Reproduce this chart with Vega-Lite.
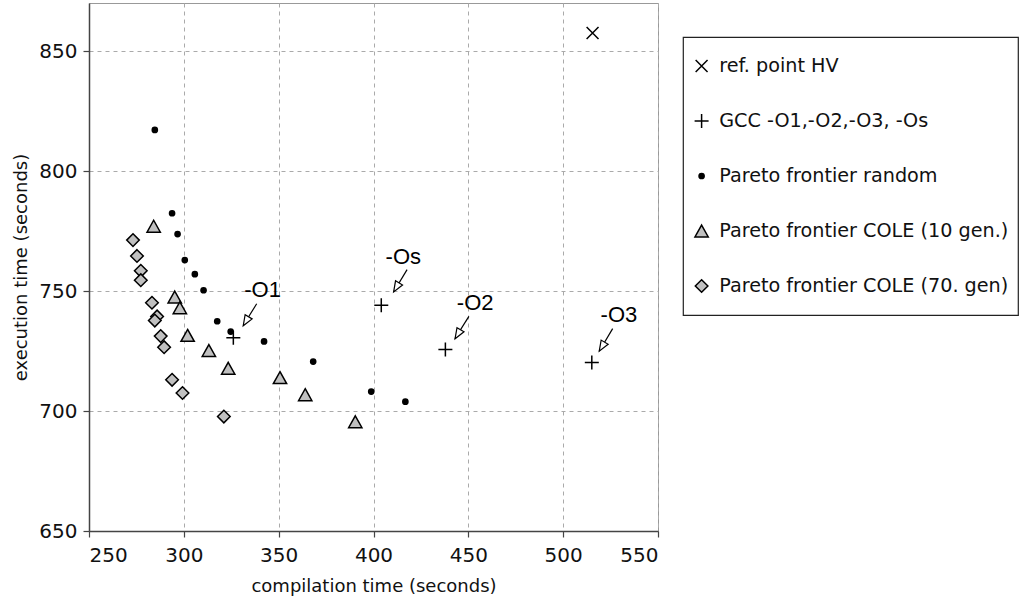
{
  "$schema": "https://vega.github.io/schema/vega-lite/v6.json",
  "width": 569,
  "height": 528,
  "autosize": {"type": "none"},
  "padding": {"left": 89, "top": 3, "right": 365, "bottom": 72},
  "background": "white",
  "config": {
    "view": {"stroke": "#999999", "strokeWidth": 1},
    "axis": {
      "labelFont": "DejaVu Sans",
      "labelFontSize": 20,
      "labelColor": "#111111",
      "titleFont": "DejaVu Sans",
      "titleFontSize": 18,
      "titleFontWeight": "normal",
      "titleColor": "#111111",
      "domainColor": "#444444",
      "domainWidth": 1.5,
      "tickColor": "#444444",
      "tickSize": 6,
      "tickWidth": 1.2,
      "gridColor": "#aaaaaa",
      "gridDash": [4, 4],
      "gridWidth": 1
    },
    "legend": {
      "strokeColor": "#222222",
      "strokeWidth": 1.2,
      "fillColor": "white",
      "padding": 9,
      "clipHeight": 40,
      "rowPadding": 15,
      "labelOffset": 8,
      "labelFont": "DejaVu Sans",
      "labelFontSize": 19.2,
      "labelColor": "#111111",
      "labelLimit": 500,
      "symbolSize": 196,
      "symbolStrokeWidth": 1.5,
      "symbolStrokeColor": "black"
    }
  },
  "datasets": {
    "pts": [
      {"series": "ref. point HV", "compile": 515.5, "exec": 857.5},
      {"series": "GCC -O1,-O2,-O3, -Os", "compile": 326.1, "exec": 730.5},
      {"series": "GCC -O1,-O2,-O3, -Os", "compile": 404.1, "exec": 744.1},
      {"series": "GCC -O1,-O2,-O3, -Os", "compile": 437.9, "exec": 725.6},
      {"series": "GCC -O1,-O2,-O3, -Os", "compile": 515.1, "exec": 720.2},
      {"series": "Pareto frontier random", "compile": 284.7, "exec": 817.1},
      {"series": "Pareto frontier random", "compile": 293.8, "exec": 782.4},
      {"series": "Pareto frontier random", "compile": 296.7, "exec": 773.7},
      {"series": "Pareto frontier random", "compile": 300.5, "exec": 762.9},
      {"series": "Pareto frontier random", "compile": 305.8, "exec": 757.0},
      {"series": "Pareto frontier random", "compile": 310.4, "exec": 750.3},
      {"series": "Pareto frontier random", "compile": 317.6, "exec": 737.4},
      {"series": "Pareto frontier random", "compile": 324.7, "exec": 733.1},
      {"series": "Pareto frontier random", "compile": 342.3, "exec": 729.0},
      {"series": "Pareto frontier random", "compile": 368.2, "exec": 720.6},
      {"series": "Pareto frontier random", "compile": 398.8, "exec": 708.1},
      {"series": "Pareto frontier random", "compile": 416.8, "exec": 703.9},
      {"series": "Pareto frontier COLE (10 gen.)", "compile": 284.1, "exec": 777.0},
      {"series": "Pareto frontier COLE (10 gen.)", "compile": 295.2, "exec": 747.5},
      {"series": "Pareto frontier COLE (10 gen.)", "compile": 297.9, "exec": 743.0},
      {"series": "Pareto frontier COLE (10 gen.)", "compile": 302.0, "exec": 731.5},
      {"series": "Pareto frontier COLE (10 gen.)", "compile": 313.2, "exec": 725.2},
      {"series": "Pareto frontier COLE (10 gen.)", "compile": 323.4, "exec": 717.8},
      {"series": "Pareto frontier COLE (10 gen.)", "compile": 350.7, "exec": 713.9},
      {"series": "Pareto frontier COLE (10 gen.)", "compile": 364.0, "exec": 706.8},
      {"series": "Pareto frontier COLE (10 gen.)", "compile": 390.4, "exec": 695.5},
      {"series": "Pareto frontier COLE (70. gen)", "compile": 273.2, "exec": 771.2},
      {"series": "Pareto frontier COLE (70. gen)", "compile": 275.3, "exec": 764.6},
      {"series": "Pareto frontier COLE (70. gen)", "compile": 277.3, "exec": 758.4},
      {"series": "Pareto frontier COLE (70. gen)", "compile": 277.3, "exec": 754.5},
      {"series": "Pareto frontier COLE (70. gen)", "compile": 283.2, "exec": 745.1},
      {"series": "Pareto frontier COLE (70. gen)", "compile": 285.9, "exec": 739.4},
      {"series": "Pareto frontier COLE (70. gen)", "compile": 284.7, "exec": 737.7},
      {"series": "Pareto frontier COLE (70. gen)", "compile": 287.8, "exec": 731.2},
      {"series": "Pareto frontier COLE (70. gen)", "compile": 289.6, "exec": 726.6},
      {"series": "Pareto frontier COLE (70. gen)", "compile": 293.8, "exec": 713.0},
      {"series": "Pareto frontier COLE (70. gen)", "compile": 299.3, "exec": 707.5},
      {"series": "Pareto frontier COLE (70. gen)", "compile": 321.1, "exec": 697.7}
    ],
    "arrows": [
      {"compile": 338.4, "exec": 744.7, "compile2": 331.3, "exec2": 735.6},
      {"compile": 417.7, "exec": 758.9, "compile2": 410.6, "exec2": 749.6},
      {"compile": 450.3, "exec": 739.4, "compile2": 442.9, "exec2": 730.1},
      {"compile": 526.1, "exec": 734.3, "compile2": 519.0, "exec2": 724.9}
    ],
    "heads": [
      {"compile": 332.9, "exec": 737.6},
      {"compile": 412.2, "exec": 751.7},
      {"compile": 444.6, "exec": 732.2},
      {"compile": 520.6, "exec": 727.0}
    ],
    "labels": [
      {"label": "-O1", "compile": 341.5, "exec": 750.3},
      {"label": "-Os", "compile": 415.7, "exec": 764.1},
      {"label": "-O2", "compile": 453.6, "exec": 744.8},
      {"label": "-O3", "compile": 529.4, "exec": 740.2}
    ]
  },
  "layer": [
    {
      "data": {"name": "pts"},
      "mark": {"type": "point", "size": 196, "strokeWidth": 1.5, "opacity": 1},
      "encoding": {
        "x": {
          "field": "compile", "type": "quantitative", "title": "compilation time (seconds)",
          "scale": {"domain": [250, 550], "nice": false, "zero": false},
          "axis": {"values": [250, 300, 350, 400, 450, 500, 550], "labelPadding": 8, "titlePadding": 12}
        },
        "y": {
          "field": "exec", "type": "quantitative", "title": "execution time (seconds)",
          "scale": {"domain": [650, 870], "nice": false, "zero": false},
          "axis": {"values": [650, 700, 750, 800, 850], "labelPadding": 6, "titlePadding": 8}
        },
        "shape": {
          "field": "series", "type": "nominal",
          "scale": {
            "domain": ["ref. point HV", "GCC -O1,-O2,-O3, -Os", "Pareto frontier random", "Pareto frontier COLE (10 gen.)", "Pareto frontier COLE (70. gen)"],
            "range": [
              "M-0.85,-0.85L0.85,0.85M-0.85,0.85L0.85,-0.85",
              "M-1,0L1,0M0,-1L0,1",
              "M-0.37,0A0.37,0.37 0 1,0 0.37,0A0.37,0.37 0 1,0 -0.37,0Z",
              "M0,-0.85L0.95,0.85L-0.95,0.85Z",
              "M0,-0.9L0.9,0L0,0.9L-0.9,0Z"
            ]
          },
          "legend": {"orient": "none", "legendX": 594, "legendY": 34, "title": null}
        },
        "fill": {
          "field": "series", "type": "nominal",
          "scale": {
            "domain": ["ref. point HV", "GCC -O1,-O2,-O3, -Os", "Pareto frontier random", "Pareto frontier COLE (10 gen.)", "Pareto frontier COLE (70. gen)"],
            "range": ["transparent", "transparent", "black", "#c0c0c0", "#c0c0c0"]
          },
          "legend": {"orient": "none", "legendX": 594, "legendY": 34, "title": null}
        },
        "stroke": {
          "field": "series", "type": "nominal",
          "scale": {
            "domain": ["ref. point HV", "GCC -O1,-O2,-O3, -Os", "Pareto frontier random", "Pareto frontier COLE (10 gen.)", "Pareto frontier COLE (70. gen)"],
            "range": ["black", "black", "black", "black", "black"]
          },
          "legend": {"orient": "none", "legendX": 594, "legendY": 34, "title": null}
        }
      }
    },
    {
      "data": {"name": "arrows"},
      "mark": {"type": "rule", "color": "black", "strokeWidth": 1.2},
      "encoding": {
        "x": {"field": "compile", "type": "quantitative", "title": "compilation time (seconds)"},
        "y": {"field": "exec", "type": "quantitative", "title": "execution time (seconds)"},
        "x2": {"field": "compile2"},
        "y2": {"field": "exec2"}
      }
    },
    {
      "data": {"name": "heads"},
      "mark": {"type": "point", "shape": "M0,-1L0.7,0.8L-0.7,0.8Z", "size": 136, "angle": 211, "filled": true, "fill": "white", "stroke": "black", "strokeWidth": 1.2, "opacity": 1},
      "encoding": {
        "x": {"field": "compile", "type": "quantitative", "title": "compilation time (seconds)"},
        "y": {"field": "exec", "type": "quantitative", "title": "execution time (seconds)"}
      }
    },
    {
      "data": {"name": "labels"},
      "mark": {"type": "text", "font": "Liberation Sans", "fontSize": 22, "align": "center", "baseline": "middle", "color": "black"},
      "encoding": {
        "x": {"field": "compile", "type": "quantitative", "title": "compilation time (seconds)"},
        "y": {"field": "exec", "type": "quantitative", "title": "execution time (seconds)"},
        "text": {"field": "label", "type": "nominal"}
      }
    }
  ]
}
